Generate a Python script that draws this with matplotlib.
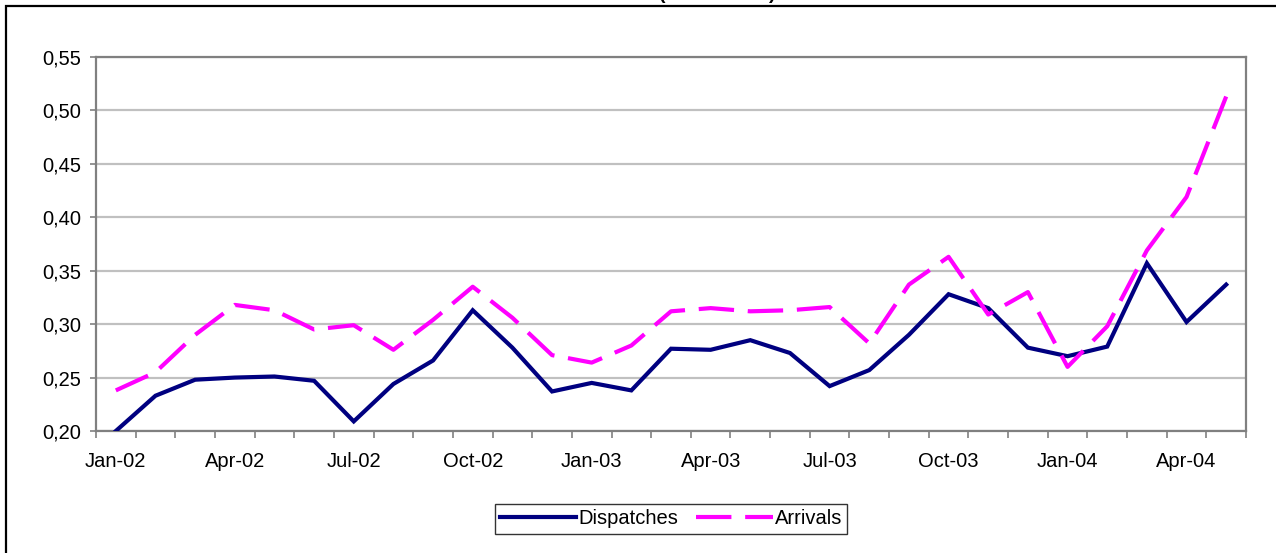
import matplotlib
matplotlib.use("Agg")
import matplotlib.pyplot as plt
from matplotlib.patches import Rectangle
from matplotlib.ticker import FixedLocator, FixedFormatter

plt.rcParams['font.family'] = ['Liberation Sans', 'DejaVu Sans']

months = ["Jan-02", "Feb-02", "Mar-02", "Apr-02", "May-02", "Jun-02", "Jul-02", "Aug-02",
          "Sep-02", "Oct-02", "Nov-02", "Dec-02", "Jan-03", "Feb-03", "Mar-03", "Apr-03",
          "May-03", "Jun-03", "Jul-03", "Aug-03", "Sep-03", "Oct-03", "Nov-03", "Dec-03",
          "Jan-04", "Feb-04", "Mar-04", "Apr-04", "May-04"]

dispatches = [0.200, 0.233, 0.248, 0.250, 0.251, 0.247, 0.209, 0.244, 0.266, 0.313,
              0.278, 0.237, 0.245, 0.238, 0.277, 0.276, 0.285, 0.273, 0.242, 0.257,
              0.290, 0.328, 0.315, 0.278, 0.270, 0.279, 0.357, 0.302, 0.337]

arrivals = [0.238, 0.255, 0.290, 0.318, 0.313, 0.295, 0.299, 0.276, 0.304, 0.335,
            0.306, 0.271, 0.264, 0.280, 0.312, 0.315, 0.312, 0.313, 0.316, 0.282,
            0.337, 0.363, 0.309, 0.330, 0.260, 0.298, 0.369, 0.419, 0.513]

y_ticks = [0.20, 0.25, 0.30, 0.35, 0.40, 0.45, 0.50, 0.55]
y_labels = ["0,20", "0,25", "0,30", "0,35", "0,40", "0,45", "0,50", "0,55"]

W, H = 1276, 553
fig = plt.figure(figsize=(W / 100, H / 100), dpi=100)
ax = fig.add_axes([96 / W, (H - 431) / H, (1246 - 96) / W, (431 - 57) / H])

x = list(range(len(months)))
ax.plot(x, dispatches, color="#000080", lw=3.0, label="Dispatches", solid_joinstyle="miter",
        zorder=3)
ax.plot(x, arrivals, color="#FF00FF", lw=3.0, ls=(0, (8.5, 3.3)), label="Arrivals", zorder=3)

ax.set_xlim(-0.5, len(months) - 0.5)
ax.set_ylim(0.20, 0.55)

ax.set_yticks(y_ticks)
ax.set_yticklabels(y_labels)
ax.yaxis.grid(True, color="#C0C0C0", lw=1.6)
ax.set_axisbelow(True)
ax.tick_params(axis="y", length=4.5, width=1.2, color="#808080", pad=6, labelsize=14.5)

label_pos = list(range(0, len(months), 3))
ax.xaxis.set_major_locator(FixedLocator(label_pos))
ax.xaxis.set_major_formatter(FixedFormatter([months[i] for i in label_pos]))
ax.xaxis.set_minor_locator(FixedLocator([i - 0.5 for i in range(len(months) + 1)]))
ax.tick_params(axis="x", which="major", length=0, pad=15, labelsize=14.5)
ax.tick_params(axis="x", which="minor", length=5, width=1.2, color="#808080")

for s in ax.spines.values():
    s.set_color("#808080")
    s.set_linewidth(1.6)

leg = ax.legend(loc="center", bbox_to_anchor=(671 / W, 1 - 519 / H),
                bbox_transform=fig.transFigure, ncol=2, frameon=True, fancybox=False,
                fontsize=14.5, handlelength=3.8, handletextpad=0.1, columnspacing=0.9,
                borderpad=0.25, borderaxespad=0)
leg.get_frame().set_edgecolor("black")
leg.get_frame().set_linewidth(1.0)

# outer chart-area border
fig.patches.append(Rectangle((6 / W, -0.1), 1.2, 1.1 - 6 / H, transform=fig.transFigure,
                             fill=False, edgecolor="black", lw=1.6))

# clipped title (only the bottom of it is visible in the reference)
fig.text(662 / W, 1 + 1 / H, "(", fontsize=14, fontweight="bold", ha="center", va="baseline")
fig.text(772 / W, 1 + 1 / H, ")", fontsize=14, fontweight="bold", ha="center", va="baseline")

fig.savefig("out.png", dpi=100, facecolor="white")
